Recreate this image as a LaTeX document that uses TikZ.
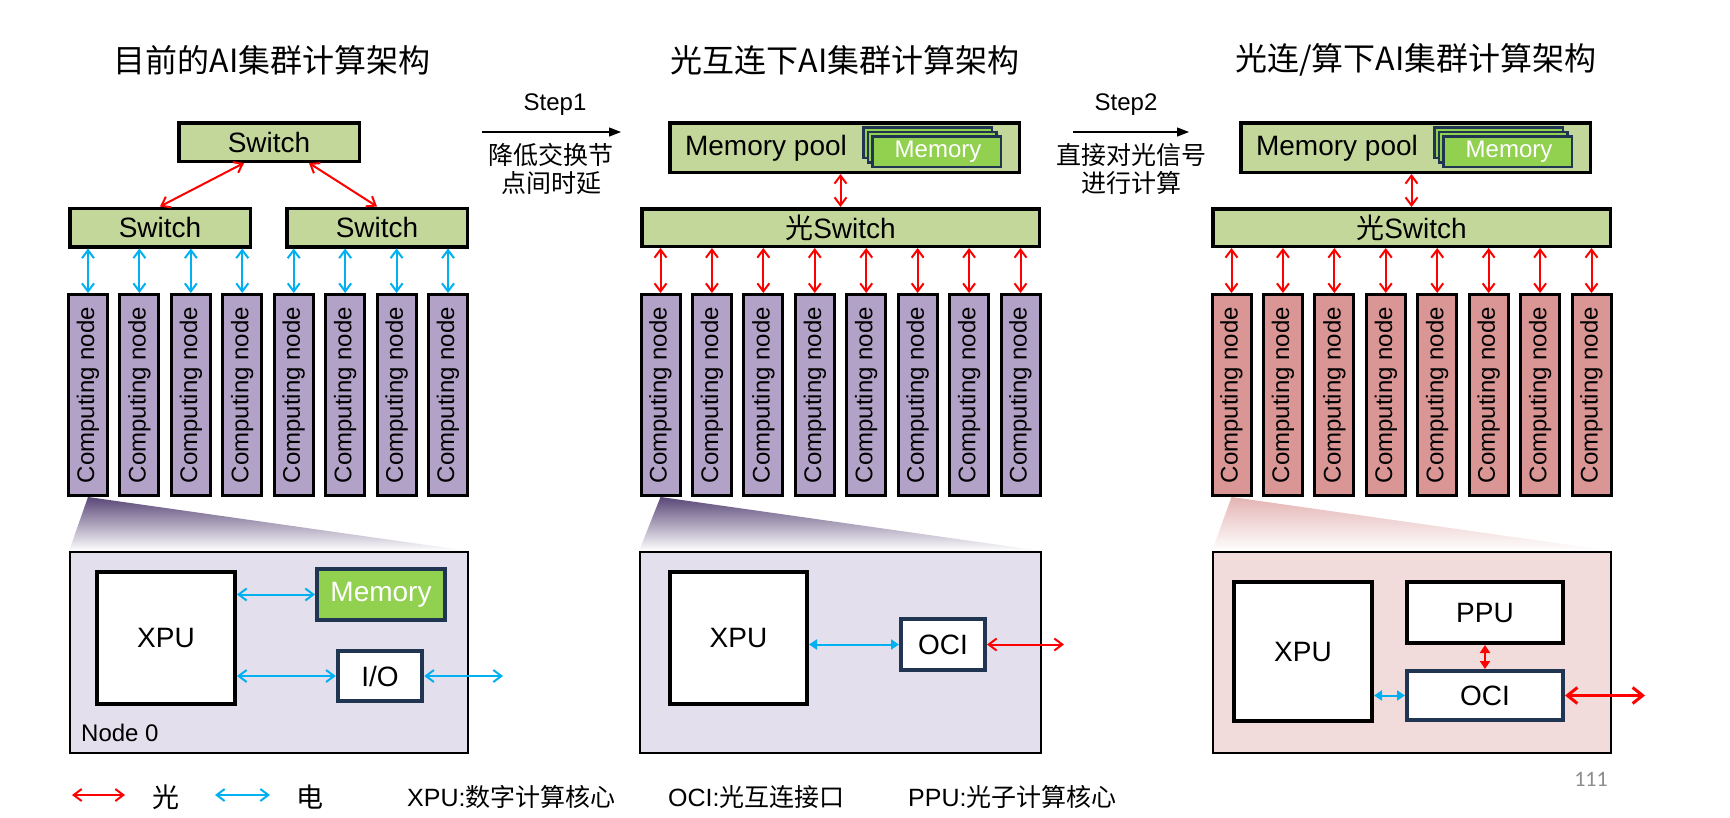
\documentclass[tikz,border=0pt]{standalone}
\usepackage{fontspec}
\setmainfont{Liberation Sans}
\newfontfamily\cjk{Noto Sans CJK SC}
\newfontfamily\calfont{Carlito}
\usetikzlibrary{arrows.meta,calc}
\definecolor{swg}{HTML}{C4D79B}
\definecolor{memg}{HTML}{92D050}
\definecolor{navy}{HTML}{1F3552}
\definecolor{lav}{HTML}{B3A2C7}
\definecolor{lavbg}{HTML}{E4DFEC}
\definecolor{rose}{HTML}{DA9694}
\definecolor{rosebg}{HTML}{F2DCDB}
\definecolor{ebl}{HTML}{00B0F0}
\definecolor{ored}{HTML}{FF0000}
\definecolor{fdark}{HTML}{5A4778}
\definecolor{fpink}{HTML}{E4B4B3}
\definecolor{pgray}{HTML}{8C8C8C}
\newcommand{\fs}[1]{\fontsize{#1}{#1}\selectfont}
\begin{document}
\begin{tikzpicture}[x=1pt,y=-1pt,
  swbox/.style={draw=black,line width=3.5pt,fill=swg,inner sep=0pt,font=\fs{28}},
  cnode/.style={draw=black,line width=3pt,minimum width=39pt,minimum height=201pt,inner sep=0pt},
  ctext/.style={rotate=90,font=\fs{24},inner sep=0pt},
  outerbox/.style={draw=black,line width=2pt,inner sep=0pt},
  whitebox/.style={draw=black,line width=4pt,fill=white,inner sep=0pt,font=\fs{28}},
  navybox/.style={draw=navy,line width=4pt,fill=white,inner sep=0pt,font=\fs{28}},
  membox/.style={draw=navy,line width=4pt,fill=memg,text=white,inner sep=0pt,font=\fs{28}},
  stackbox/.style={draw=navy,line width=2.5pt,fill=memg,minimum width=128.5pt,minimum height=30.5pt,inner sep=0pt},
  earrow/.style={draw=ebl,line width=2pt,{Straight Barb[length=8pt,width=12pt]}-{Straight Barb[length=8pt,width=12pt]}},
  oarrow/.style={draw=ored,line width=2pt,{Straight Barb[length=8pt,width=12pt]}-{Straight Barb[length=8pt,width=12pt]}},
  oarrowbig/.style={draw=ored,line width=3pt,{Straight Barb[length=10pt,width=16pt]}-{Straight Barb[length=10pt,width=16pt]}},
  efill/.style={draw=ebl,line width=2pt,{Triangle[length=8pt,width=10pt]}-{Triangle[length=8pt,width=10pt]}},
  ofill/.style={draw=ored,line width=2.5pt,{Triangle[length=8pt,width=10pt]}-{Triangle[length=8pt,width=10pt]}},
  steparrow/.style={draw=black,line width=1.3pt,-{Triangle[length=12pt,width=9pt]}},
  titletext/.style={font=\cjk\fs{32},inner sep=0pt},
  steptext/.style={font=\fs{24},inner sep=0pt},
  stepcjk/.style={font=\cjk\fontsize{25}{28}\selectfont,align=center,inner sep=0pt},
  legtext/.style={font=\fs{25},inner sep=0pt,anchor=west}
]
\useasboundingbox (0,0) rectangle (1730,817);
\fill[white] (0,0) rectangle (1730,817);

% ---------------- titles ----------------
\node[titletext] (t1) at (272,60) {目前的AI集群计算架构};
\node[titletext] (t2) at (845,60) {光互连下AI集群计算架构};
\node[titletext] (t3) at (1416,60) {光连/算下AI集群计算架构};

% ---------------- steps ----------------
\node[steptext] (st1) at (555,105) {Step1};
\coordinate (st1a) at (482,132);
\coordinate (st1b) at (621,132);
\draw[steparrow] (st1a) -- (st1b);
\node[stepcjk] (st1t) at (551,169) {降低交换节\\点间时延};

\node[steptext] (st2) at (1126,105) {Step2};
\coordinate (st2a) at (1073,132);
\coordinate (st2b) at (1189,132);
\draw[steparrow] (st2a) -- (st2b);
\node[stepcjk] (st2t) at (1131,169) {直接对光信号\\进行计算};

% ---------------- panel 1 ----------------
\node[swbox,minimum width=180.5pt,minimum height=38.5pt] (s0) at (269,142) {Switch};
\node[swbox,minimum width=180.5pt,minimum height=38.5pt] (s1) at (160,227.5) {Switch};
\node[swbox,minimum width=180.5pt,minimum height=38.5pt] (s2) at (377,227.5) {Switch};
\draw[oarrow] ($(s0.south)+(-25,0)$) -- (s1.north);
\draw[oarrow] ($(s0.south)+(40,0)$) -- (s2.north);

\foreach \i in {1,...,8} {
  \pgfmathsetmacro{\xa}{88+51.43*(\i-1)}
  \node[cnode,fill=lav] (a\i) at (\xa,395) {};
  \node[ctext] (ta\i) at (a\i) {Computing node};
}
\foreach \i in {1,...,4} \draw[earrow] (s1.south -| a\i.north) -- (a\i.north);
\foreach \i in {5,...,8} \draw[earrow] (s2.south -| a\i.north) -- (a\i.north);

\coordinate (n1nw) at (69,551);
\coordinate (n1ne) at (469,551);
\shade[top color=fdark,bottom color=white] (a1.south) -- (n1nw) -- (n1ne) -- cycle;
\node[outerbox,fill=lavbg,minimum width=398pt,minimum height=201pt] (n1) at (269,652.5) {};
\node[whitebox,minimum width=138pt,minimum height=132pt] (x1) at (166,638) {XPU};
\node[membox,minimum width=128pt,minimum height=51pt] (m1) at (381,594.5) {Memory};
\node[navybox,minimum width=84.5pt,minimum height=50.5pt] (io1) at (380,676) {I/O};
\node[font=\fs{24},inner sep=0pt,anchor=west] (nd1) at (81,733) {Node 0};
\draw[earrow] (x1.east |- m1.west) -- (m1.west);
\draw[earrow] (x1.east |- io1.west) -- (io1.west);
\coordinate (o1) at (503,676);
\draw[earrow] (io1.east) -- (o1);

% ---------------- panel 2 ----------------
\node[swbox,minimum width=349.5pt,minimum height=49.5pt] (mp2) at (844.5,147.5) {};
\node[font=\fs{28},inner sep=0pt] (mp2t) at (766,148) {Memory pool};
\node[stackbox] (m2c) at (927.5,142.5) {};
\node[stackbox] (m2b) at (932,147) {};
\node[stackbox,text=white,font=\fs{24}] (m2a) at (936.5,151.5) {\hspace*{3pt}Memory};
\node[swbox,minimum width=397.5pt,minimum height=37.5pt] (sw2) at (840.5,227.5) {{\cjk 光}Switch};
\draw[oarrow] (sw2.north |- mp2.south) -- (sw2.north);
\foreach \i in {1,...,8} {
  \pgfmathsetmacro{\xb}{660.5+51.43*(\i-1)}
  \node[cnode,fill=lav] (b\i) at (\xb,395) {};
  \node[ctext] (tb\i) at (b\i) {Computing node};
  \draw[oarrow] (sw2.south -| b\i.north) -- (b\i.north);
}
\coordinate (n2nw) at (639,551);
\coordinate (n2ne) at (1042,551);
\shade[top color=fdark,bottom color=white] (b1.south) -- (n2nw) -- (n2ne) -- cycle;
\node[outerbox,fill=lavbg,minimum width=401pt,minimum height=201pt] (n2) at (840.5,652.5) {};
\node[whitebox,minimum width=137pt,minimum height=132pt] (x2) at (738.5,638) {XPU};
\node[navybox,minimum width=84pt,minimum height=51pt] (oci2) at (943,644.5) {OCI};
\draw[efill] (x2.east |- oci2.west) -- (oci2.west);
\coordinate (o2) at (1064,644.5);
\draw[oarrow] (oci2.east) -- (o2);

% ---------------- panel 3 ----------------
\node[swbox,minimum width=349.5pt,minimum height=49.5pt] (mp3) at (1415.5,147.5) {};
\node[font=\fs{28},inner sep=0pt] (mp3t) at (1337,148) {Memory pool};
\node[stackbox] (m3c) at (1498.5,142.5) {};
\node[stackbox] (m3b) at (1503,147) {};
\node[stackbox,text=white,font=\fs{24}] (m3a) at (1507.5,151.5) {\hspace*{3pt}Memory};
\node[swbox,minimum width=397.5pt,minimum height=37.5pt] (sw3) at (1411.5,227.5) {{\cjk 光}Switch};
\draw[oarrow] (sw3.north |- mp3.south) -- (sw3.north);
\foreach \i in {1,...,8} {
  \pgfmathsetmacro{\xc}{1231.5+51.43*(\i-1)}
  \node[cnode,fill=rose] (c\i) at (\xc,395) {};
  \node[ctext] (tc\i) at (c\i) {Computing node};
  \draw[oarrow] (sw3.south -| c\i.north) -- (c\i.north);
}
\coordinate (n3nw) at (1212,551);
\coordinate (n3ne) at (1612,551);
\shade[top color=fpink,middle color=fpink!90,bottom color=white] (c1.south) -- (n3nw) -- (n3ne) -- cycle;
\node[outerbox,fill=rosebg,minimum width=398pt,minimum height=201pt] (n3) at (1412,652.5) {};
\node[whitebox,minimum width=138pt,minimum height=139pt] (x3) at (1303,651.5) {XPU};
\node[whitebox,minimum width=156pt,minimum height=61pt] (ppu3) at (1485,612.5) {PPU};
\node[navybox,minimum width=156pt,minimum height=49pt] (oci3) at (1485,695.5) {OCI};
\draw[ofill] (ppu3.south) -- (oci3.north);
\draw[efill] (x3.east |- oci3.west) -- (oci3.west);
\coordinate (o3) at (1645,695.5);
\draw[oarrowbig] (oci3.east) -- (o3);

% ---------------- legend ----------------
\coordinate (l1a) at (72,795);
\coordinate (l1b) at (125,795);
\draw[oarrow] (l1a) -- (l1b);
\node[font=\cjk\fs{27},inner sep=0pt] (lg1) at (166,797) {光};
\coordinate (l2a) at (215,795);
\coordinate (l2b) at (270,795);
\draw[earrow] (l2a) -- (l2b);
\node[font=\cjk\fs{27},inner sep=0pt] (lg2) at (310,797) {电};
\node[legtext] (lg3) at (407,797) {XPU:{\cjk 数字计算核心}};
\node[legtext] (lg4) at (668,797) {OCI:{\cjk 光互连接口}};
\node[legtext] (lg5) at (908,797) {PPU:{\cjk 光子计算核心}};
\node[font=\calfont\fs{22},text=pgray,inner sep=0pt] (pg) at (1591,779) {111};
\end{tikzpicture}
\end{document}
